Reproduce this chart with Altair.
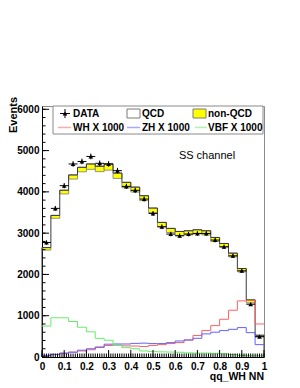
import altair as alt
import pandas as pd
import numpy as np

# ---------------- data ----------------
bin_lo = [round(0.04 * i, 2) for i in range(25)]
bin_hi = [round(0.04 * (i + 1), 2) for i in range(25)]

total = [2650, 3430, 4040, 4410, 4595, 4676, 4620, 4676, 4455, 4231, 4115, 3907, 3608,
         3260, 3115, 3041, 3058, 3082, 3058, 2896, 2750, 2516, 2143, 1383, 527]
nonqcd = [60, 70, 90, 100, 110, 130, 130, 150, 130, 130, 120, 120, 110,
          110, 100, 100, 100, 100, 100, 100, 90, 90, 80, 70, 40]
data_vals = [2774, 3600, 4150, 4676, 4737, 4858, 4692, 4676, 4514, 4133, 4037, 3826, 3478,
             3155, 2978, 2937, 2978, 2993, 2993, 2832, 2670, 2451, 2087, 1279, 493]
wh = [30, 60, 90, 120, 145, 175, 230, 280, 285, 270, 265, 255, 280,
      300, 325, 350, 410, 520, 640, 760, 914, 1133, 1359, 1370, 800]
zh = [40, 65, 95, 115, 165, 200, 243, 310, 315, 315, 330, 335, 325,
      325, 348, 388, 413, 453, 560, 600, 640, 670, 712, 590, 300]
vbf = [750, 950, 950, 860, 720, 610, 453, 405, 280, 227, 200, 146, 130,
       125, 120, 115, 100, 95, 95, 90, 80, 60, 40, 30, 30]

series_names = ["WH X 1000", "ZH X 1000", "VBF X 1000"]
series_colors = ["#ff6262", "#6262ff", "#66ee66"]

y_major = [0, 1000, 2000, 3000, 4000, 5000, 6000]
y_minor = list(range(0, 6001, 200))
x_major = [round(0.1 * i, 1) for i in range(11)]
x_minor = [round(0.01 * i, 2) for i in range(101)]

legend_labels = ["DATA", "QCD", "non-QCD", "WH X 1000", "ZH X 1000", "VBF X 1000"]

FONT = "Liberation Sans"
W, H = 222, 251

xs = alt.Scale(domain=[0, 1], nice=False, zero=False)
ys = alt.Scale(domain=[0, 6080], nice=False)

X_AX = alt.Axis(values=x_major, format=".1~f", ticks=False, grid=False,
                labelPadding=4, labelOverlap=False, labelFlush=False,
                domainColor="black", title=None)
Y_AX = alt.Axis(values=y_major, format="d", ticks=False, grid=False,
                labelPadding=3, labelOverlap=False, labelFlush=False,
                domainColor="black", title=None)


def X(f):
    return alt.X(f, scale=xs, axis=X_AX, title=None)


def Y(f):
    return alt.Y(f, scale=ys, axis=Y_AX, title=None)


# ---------------- frames ----------------
hist = pd.DataFrame({"lo": bin_lo, "hi": bin_hi, "total": total,
                     "qcd": [t - n for t, n in zip(total, nonqcd)],
                     "data": data_vals})
hist["center"] = (hist["lo"] + hist["hi"]) / 2
hist["err"] = np.sqrt(hist["data"])
hist["dlo"] = hist["data"] - hist["err"]
hist["dhi"] = hist["data"] + hist["err"]

tot_rows = [{"i": 0, "x": 0.0, "y": 0}]
for k in range(25):
    tot_rows.append({"i": k + 1, "x": bin_lo[k], "y": total[k]})
tot_rows.append({"i": 26, "x": 1.0, "y": total[-1]})
tot_rows.append({"i": 27, "x": 1.0, "y": 0})
tot_df = pd.DataFrame(tot_rows)

line_rows = []
for name, vals in zip(series_names, [wh, zh, vbf]):
    for k in range(25):
        line_rows.append({"s": name, "i": k, "x": bin_lo[k], "y": vals[k]})
    line_rows.append({"s": name, "i": 25, "x": 1.0, "y": vals[-1]})
lines_df = pd.DataFrame(line_rows)

# ---------------- layers ----------------
yellow = alt.Chart(hist).mark_bar(fill="#ffff00", stroke="#7a7a7a", strokeWidth=0.8).encode(
    x=X("lo:Q"), x2="hi:Q", y=Y("qcd:Q"), y2="total:Q")

tot_line = alt.Chart(tot_df).mark_line(interpolate="step-after", color="#3a3a3a", strokeWidth=1).encode(
    x=X("x:Q"), y=Y("y:Q"), order="i:Q")

sig_lines = alt.Chart(lines_df).mark_line(interpolate="step-after", strokeWidth=1).encode(
    x=X("x:Q"), y=Y("y:Q"),
    color=alt.Color("s:N", scale=alt.Scale(domain=series_names, range=series_colors), legend=None),
    order="i:Q")

hbar = alt.Chart(hist).mark_rule(color="black", strokeWidth=1).encode(
    x=X("lo:Q"), x2="hi:Q", y=Y("data:Q"))
vbar = alt.Chart(hist).mark_rule(color="black", strokeWidth=1).encode(
    x=X("center:Q"), y=Y("dlo:Q"), y2="dhi:Q")
pts = alt.Chart(hist).mark_point(shape="triangle-up", filled=True, size=22, color="black", opacity=1).encode(
    x=X("center:Q"), y=Y("data:Q"))

# inward ticks
ytm = alt.Chart(pd.DataFrame({"v": y_major})).mark_rule(color="black").encode(
    y=Y("v:Q"), x=alt.value(0), x2=alt.value(7))
ytn = alt.Chart(pd.DataFrame({"v": y_minor})).mark_rule(color="black").encode(
    y=Y("v:Q"), x=alt.value(0), x2=alt.value(3.5))
xtm = alt.Chart(pd.DataFrame({"v": x_major})).mark_rule(color="black").encode(
    x=X("v:Q"), y=alt.value(H), y2=alt.value(H - 7))
xtn = alt.Chart(pd.DataFrame({"v": x_minor})).mark_rule(color="black").encode(
    x=X("v:Q"), y=alt.value(H), y2=alt.value(H - 3.5))

# texts
ss = alt.Chart(pd.DataFrame({"t": ["SS channel"]})).mark_text(
    font=FONT, fontSize=11, color="black", align="center", baseline="middle").encode(
    text="t:N", x=alt.value(165), y=alt.value(50))
ytitle = alt.Chart(pd.DataFrame({"t": ["Events"]})).mark_text(
    font=FONT, fontSize=11, fontWeight="bold", color="black", angle=270,
    align="right", baseline="middle").encode(
    text="t:N", x=alt.value(-28), y=alt.value(-9))
xtitle = alt.Chart(pd.DataFrame({"t": ["qq_WH NN"]})).mark_text(
    font=FONT, fontSize=10.5, fontWeight="bold", color="black",
    align="right", baseline="middle").encode(
    text="t:N", x=alt.value(222), y=alt.value(271))

# legend
one = pd.DataFrame({"a": [0]})
leg_layers = []
leg_layers.append(alt.Chart(one).mark_rect(fill="white", stroke="#8a8a8a", strokeWidth=1).encode(
    x=alt.value(11), x2=alt.value(221), y=alt.value(0), y2=alt.value(28)))
text_x = [31, 100, 166, 31, 100, 166]
text_y = [7.5, 7.5, 7.5, 21.5, 21.5, 21.5]
for lab, tx, ty in zip(legend_labels, text_x, text_y):
    leg_layers.append(alt.Chart(pd.DataFrame({"t": [lab]})).mark_text(
        font=FONT, fontSize=10, fontWeight="bold", color="black", align="left", baseline="middle").encode(
        text="t:N", x=alt.value(tx), y=alt.value(ty)))
leg_layers.append(alt.Chart(one).mark_rule(color="black").encode(
    x=alt.value(18), x2=alt.value(28), y=alt.value(7.5)))
leg_layers.append(alt.Chart(one).mark_rule(color="black").encode(
    x=alt.value(23), y=alt.value(3), y2=alt.value(12)))
leg_layers.append(alt.Chart(one).mark_point(shape="triangle-up", filled=True, size=22, color="black", opacity=1).encode(
    x=alt.value(23), y=alt.value(7.5)))
leg_layers.append(alt.Chart(one).mark_rect(fill="white", stroke="#7a7a7a", strokeWidth=1).encode(
    x=alt.value(85), x2=alt.value(98), y=alt.value(3), y2=alt.value(12)))
leg_layers.append(alt.Chart(one).mark_rect(fill="#ffff00", stroke="#7a7a7a", strokeWidth=1).encode(
    x=alt.value(151), x2=alt.value(164), y=alt.value(3), y2=alt.value(12)))
for col, (x1, x2) in zip(series_colors, [(16, 29), (85, 98), (153, 165)]):
    leg_layers.append(alt.Chart(one).mark_rule(color=col, strokeWidth=1.5, opacity=0.55).encode(
        x=alt.value(x1), x2=alt.value(x2), y=alt.value(21.5)))

chart = alt.layer(
    yellow, tot_line, sig_lines, hbar, vbar, pts,
    ytm, ytn, xtm, xtn, ss, ytitle, xtitle, *leg_layers
).properties(
    width=W, height=H,
    background="white",
    autosize=alt.AutoSizeParams(type="none"),
    padding={"left": 34, "top": 98, "right": 28, "bottom": 28},
).configure_view(
    stroke="#8a8a8a", strokeWidth=1
).configure_axis(
    labelFont=FONT, labelFontSize=10, labelFontWeight="bold", labelColor="black",
    domainWidth=1,
)

chart.save("out.html", embed_options={"renderer": "svg", "actions": False})
